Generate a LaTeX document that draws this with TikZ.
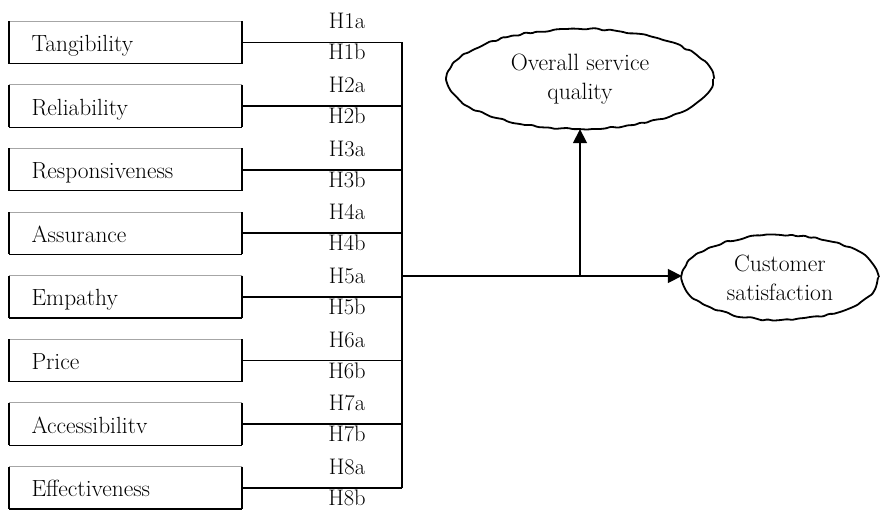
\documentclass[tikz,border=0pt]{standalone}
\usetikzlibrary{arrows.meta,decorations.pathmorphing,shapes.geometric}
\begin{document}
\begin{tikzpicture}[x=1pt,y=-1pt,
  factor/.style={rectangle, minimum width=232pt, minimum height=42pt,
    inner sep=0pt, text width=232pt, align=left,
    text height=23pt, text depth=5pt, font=\fontsize{23.4}{27}\selectfont},
  boxtop/.style={draw=black!35, line width=0.9pt},
  boxside/.style={draw=black, line width=2pt},
  boxbottom/.style={draw=black, line width=1.2pt},
  hyp/.style={anchor=base, inner sep=0pt, font=\fontsize{22.5}{26}\selectfont},
  link/.style={draw=black, line width=1.7pt},
  bus/.style={draw=black, line width=2pt},
  goal/.style={ellipse, inner sep=0pt, align=center,
    font=\fontsize{23.6}{29}\selectfont},
  wavy/.style={draw=black, line width=1.8pt, decorate,
    decoration={random steps, segment length=6pt, amplitude=1.1pt},
    rounded corners=1.2pt},
  flow/.style={draw=black, line width=1.7pt,
    -{Triangle[length=14pt,width=14pt]}}
]
\useasboundingbox (0,0) rectangle (880,510);
\pgfmathsetseed{11}

% antecedent factors
\node[factor] (f1) at (125.5, 42.5) {\hspace*{22pt}Tangibility};
\node[factor] (f2) at (125.5,106.1) {\hspace*{22pt}Reliability};
\node[factor] (f3) at (125.5,169.7) {\hspace*{22pt}Responsiveness};
\node[factor] (f4) at (125.5,233.3) {\hspace*{22pt}Assurance};
\node[factor] (f5) at (125.5,296.9) {\hspace*{22pt}Empathy};
\node[factor] (f6) at (125.5,360.5) {\hspace*{22pt}Price};
\node[factor] (f7) at (125.5,424.1) {\hspace*{22pt}Accessibilitv};
\node[factor] (f8) at (125.5,487.7) {\hspace*{22pt}Effectiveness};

\foreach \i in {1,...,8}{
  \draw[boxtop] (f\i.north west) -- (f\i.north east);
  \draw[boxbottom] (f\i.south west) -- (f\i.south east);
  \draw[boxside] (f\i.north west) -- (f\i.south west);
  \draw[boxside] (f\i.north east) -- (f\i.south east);
}

% collecting bus
\coordinate (bt) at (402,42.5);
\coordinate (bb) at (402,487.7);
\draw[bus] (bt) -- (bb);
\foreach \i in {1,...,8}{
  \draw[link] (f\i.east) -- (f\i.east -| bt);
}

% hypothesis labels
\foreach \i/\y in {1/42.5,2/106.1,3/169.7,4/233.3,5/296.9,6/360.5,7/424.1,8/487.7}{
  \node[hyp] (h\i a) at (347,\y-13.5) {H\i a};
  \node[hyp] (h\i b) at (347,\y+17.5) {H\i b};
}

% outcomes
\node[goal, minimum width=266pt, minimum height=100pt] (osq) at (580,79)
  {Overall service\\quality};
\draw[wavy] (osq.center) ellipse [x radius=133, y radius=50];

\node[goal, minimum width=196pt, minimum height=85pt] (cs) at (780,277.5)
  {Customer\\satisfaction};
\draw[wavy] (cs.center) ellipse [x radius=98, y radius=42.5];

% paths to the outcomes
\coordinate (hub) at (402,276);
\coordinate (fork) at (580,276);
\draw[flow] (hub) -- (hub -| cs.west);
\draw[flow] (fork) -- (fork |- osq.south);
\end{tikzpicture}
\end{document}
